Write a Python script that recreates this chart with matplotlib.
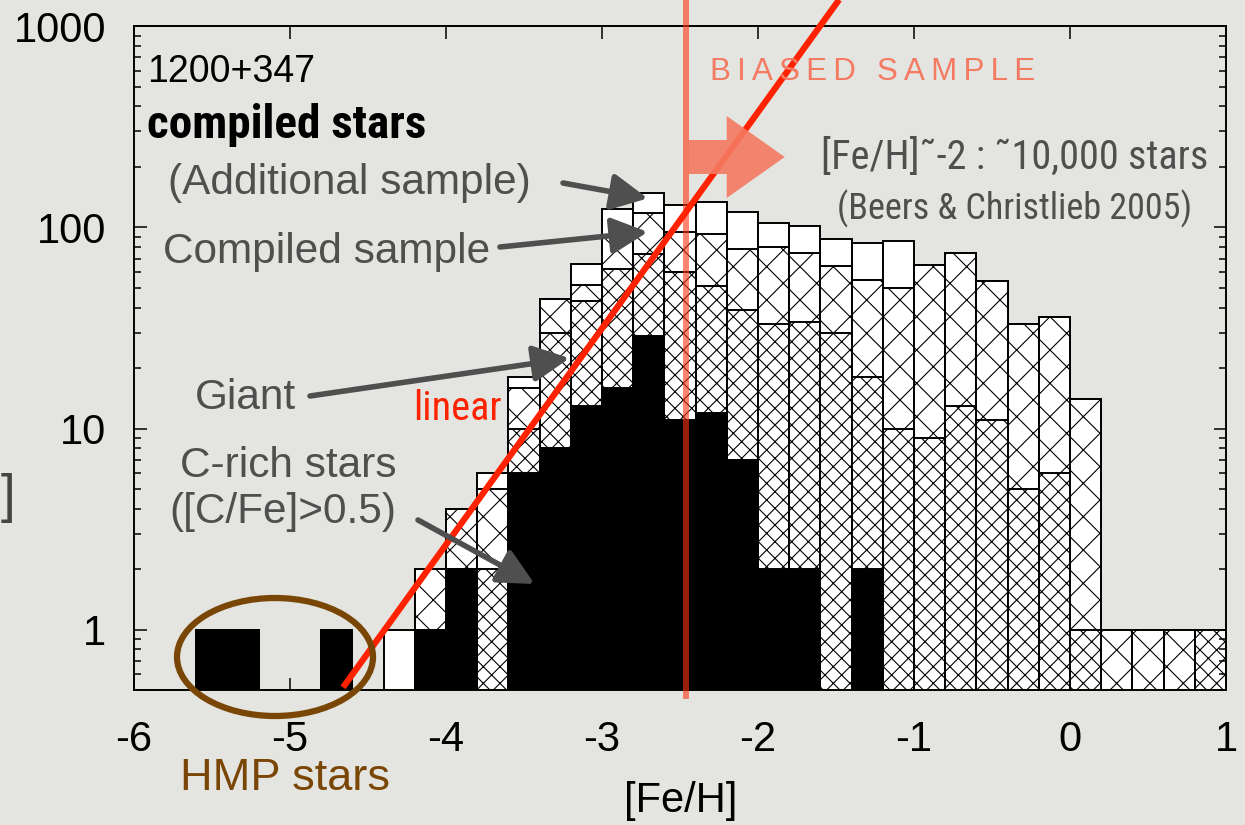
import numpy as np
import matplotlib
matplotlib.use("Agg")
import matplotlib.pyplot as plt
from matplotlib import font_manager
from matplotlib.patches import Ellipse, FancyArrow
from matplotlib.transforms import IdentityTransform
from matplotlib.ticker import FixedLocator, NullLocator

# [Fe/H] bins, 0.2 dex wide, left edges
BIN_LEFT = np.round(np.arange(-5.6, 0.9, 0.2), 1)
BIN_WIDTH = 0.2

# number of stars per bin for each sample
TOTAL = [1, 1, 0, 0, 1, 0, 1, 2, 4, 6, 18, 44, 66, 124, 149, 129, 134,
         120, 105, 102, 88, 84, 86, 65, 75, 54, 33, 36, 14, 1, 1, 1, 1]
COMPILED = [1, 1, 0, 0, 1, 0, 0, 2, 4, 5, 16, 44, 52, 90, 118, 95, 93,
            78, 80, 75, 64, 55, 50, 65, 75, 54, 33, 36, 14, 1, 1, 1, 1]
GIANT = [1, 1, 0, 0, 1, 0, 0, 1, 2, 2, 10, 30, 43, 62, 74, 60, 51,
         39, 33, 34, 30, 18, 10, 9, 13, 11, 5, 6, 1, 0, 0, 0, 1]
CRICH = [1, 1, 0, 0, 1, 0, 0, 1, 2, 0, 6, 8, 13, 16, 29, 11, 12,
         7, 2, 2, 0, 2, 0, 0, 0, 0, 0, 0, 0, 0, 0, 0, 0]

XTICKS = [-6, -5, -4, -3, -2, -1, 0, 1]
YTICKS = [1, 10, 100, 1000]
YTICK_LABELS = ["1", "10", "100", "1000"]

FEH_CUT = -2.46               # biased-sample boundary
FIT_X = [-4.66, -1.48]        # linear fit in log N
FIT_LOGN0 = -0.286
FIT_SLOPE = 1.075

BG = "#e4e4e0"
GREY = "#4f4f4f"
SALMON = "#f47a62"
BROWN = "#7a4606"

names = {f.name for f in font_manager.fontManager.ttflist}
SANS = ["Liberation Sans", "DejaVu Sans"]
if "Liberation Sans Narrow" in names:
    NARROW = ["Liberation Sans Narrow", "DejaVu Sans"]
else:
    NARROW = ["Roboto Condensed", "Open Sans Condensed", "DejaVu Sans"]
    NARROW = [n for n in NARROW if n in names] or ["DejaVu Sans"]

plt.rcParams["font.family"] = SANS
plt.rcParams["hatch.linewidth"] = 0.8

W, H = 1245, 825
fig = plt.figure(figsize=(W / 100, H / 100), dpi=100, facecolor=BG)


def fx(px):
    return px / W


def fy(py):
    return 1 - py / H


ax = fig.add_axes([fx(134), fy(690.4), fx(1226) - fx(134), fy(26.3) - fy(690.4)])
ax.set_facecolor("none")
ax.set_yscale("log")
ax.set_xlim(-6, 1)
ax.set_ylim(0.5, 1000)


def layer(values, face, hatch=None):
    v = np.array(values, dtype=float)
    m = v > 0
    ax.bar(BIN_LEFT[m], v[m], width=BIN_WIDTH, align="edge",
           facecolor=face, edgecolor="black", linewidth=1.4, hatch=hatch)


layer(TOTAL, "white")
layer(COMPILED, "white", "x")
layer(GIANT, "white", "xx")
layer(CRICH, "black")

# axes styling
for s in ax.spines.values():
    s.set_linewidth(1.4)
ax.xaxis.set_major_locator(FixedLocator(XTICKS))
ax.xaxis.set_minor_locator(NullLocator())
ax.yaxis.set_major_locator(FixedLocator(YTICKS))
ax.set_yticklabels(YTICK_LABELS)
ax.set_xticklabels([str(t) for t in XTICKS])
ax.tick_params(which="both", direction="in", top=True, right=True,
               width=1.1, labelsize=30, colors="black")
ax.tick_params(which="major", length=9)
ax.tick_params(which="minor", length=5)
ax.tick_params(axis="x", pad=21)
ax.tick_params(axis="y", pad=20)

# biased-sample boundary and linear fit
ax.plot([FEH_CUT, FEH_CUT], [0.47, 1400], color="#ff3414", alpha=0.6,
        lw=4.3, clip_on=False, zorder=5)
fx_fit = np.array(FIT_X)
fy_fit = 10 ** (FIT_LOGN0 + FIT_SLOPE * (fx_fit - FIT_X[0]))
ax.plot(fx_fit, fy_fit, color="#ff2200", lw=4.5, clip_on=False, zorder=7,
        solid_capstyle="butt")

# block arrow pointing to the biased side
arr = FancyArrow(686.7, H - 157, 98, 0, width=34, head_width=82,
                 head_length=58, length_includes_head=True,
                 transform=IdentityTransform(), color=SALMON, alpha=0.9,
                 lw=0, zorder=4)
fig.add_artist(arr)

# HMP ring
ring = Ellipse((fx(275), fy(657)), 196 / W, 118 / H, transform=fig.transFigure,
               fill=False, edgecolor=BROWN, lw=4.5, zorder=6)
fig.add_artist(ring)

# labels and pointers
fig.text(fx(147), fy(72), "1200+347", fontsize=27, va="center", ha="left")
fig.text(fx(147), fy(125), "compiled stars", fontsize=34, va="center",
         ha="left", family=NARROW, fontweight="bold")
fig.text(fx(168), fy(183), "(Additional sample)", fontsize=30.5, color=GREY,
         va="center")
fig.text(fx(163), fy(252), "Compiled sample", fontsize=30.5, color=GREY,
         va="center")
fig.text(fx(195), fy(398), "Giant", fontsize=30.5, color=GREY, va="center")
fig.text(fx(288), fy(466), "C-rich stars", fontsize=30.5, color=GREY,
         va="center", ha="center")
fig.text(fx(283), fy(512), "([C/Fe]>0.5)", fontsize=30.5, color=GREY,
         va="center", ha="center")
fig.text(fx(413), fy(408), "linear", fontsize=29, color="#ff2200",
         va="center", ha="left", family=NARROW)
fig.text(fx(710), fy(72), "\u2009".join("BIASED SAMPLE"), fontsize=22.5,
         color=SALMON, va="center", ha="left")
fig.text(fx(1208), fy(157), "[Fe/H]\u02dc-2 : \u02dc10,000 stars", fontsize=29,
         color=GREY, va="center", ha="right", family=NARROW)
fig.text(fx(1015), fy(209), "(Beers & Christlieb 2005)", fontsize=26,
         color=GREY, va="center", ha="center", family=NARROW)
fig.text(fx(180), fy(779), "HMP stars", fontsize=32.5, color=BROWN,
         va="center")
fig.text(fx(681), fy(801), "[Fe/H]", fontsize=30, va="center", ha="center")
fig.text(fx(1), fy(498), "]", fontsize=38, color="#444444", va="center",
         ha="left")

pointers = [((-2.706, 139.5), (563, 183)),
            ((-2.706, 95), (500, 247)),
            ((-3.208, 22.4), (310, 396)),
            ((-3.432, 1.69), (418, 520))]
for tip, tail in pointers:
    ax.annotate("", xy=tip, xycoords="data", xytext=(tail[0], H - tail[1]),
                textcoords="figure pixels",
                arrowprops=dict(arrowstyle="-|>,head_length=1.0,head_width=0.5",
                                color=GREY, lw=4, mutation_scale=22,
                                shrinkA=0, shrinkB=0),
                zorder=8, annotation_clip=False)

fig.savefig("out.png", dpi=100, facecolor=BG)
